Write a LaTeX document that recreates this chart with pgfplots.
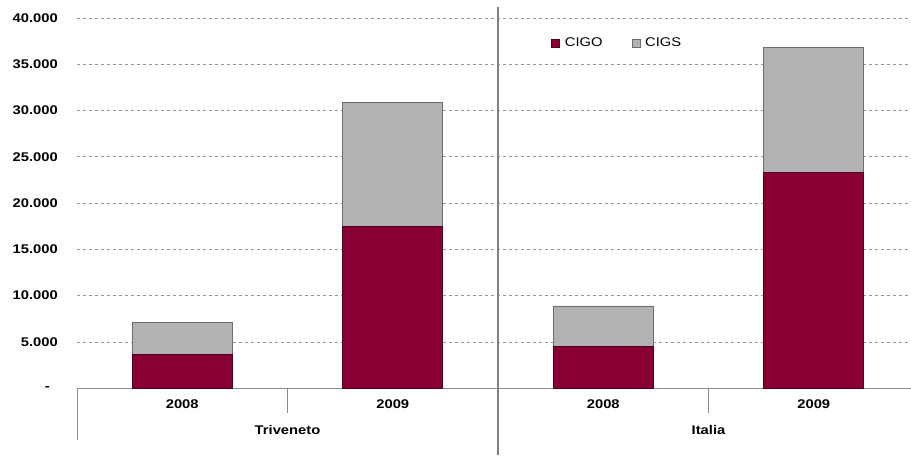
\documentclass[border=0pt]{standalone}
\usepackage{fontspec}
\setmainfont{Liberation Sans}[FakeStretch=1.17]
\usepackage{pgfplots}
\pgfplotsset{compat=1.18}
\definecolor{cigo}{RGB}{136,0,52}
\definecolor{cigoedge}{RGB}{80,0,30}
\definecolor{cigs}{RGB}{178,178,178}
\definecolor{cigsedge}{RGB}{110,110,110}
\definecolor{gridc}{RGB}{150,150,150}
\definecolor{axc}{RGB}{140,140,140}
\begin{document}
\fontsize{12.6}{15}\selectfont
\begin{tikzpicture}
\begin{axis}[
  name=ax,
  scale only axis,
  width=842pt, height=370pt,
  xmin=-0.5, xmax=3.5,
  ymin=0, ymax=40000,
  ybar stacked,
  bar width=0.475,
  clip=false,
  axis y line*=left,
  axis x line*=bottom,
  y axis line style={draw=none},
  x axis line style={draw=axc, line width=0.8pt, -},
  xtick={0,1,2,3},
  xticklabels={2008,2009,2008,2009},
  ytick={0,5000,10000,15000,20000,25000,30000,35000,40000},
  yticklabels={-\rule{8pt}{0pt},5.000,10.000,15.000,20.000,25.000,30.000,35.000,40.000},
  scaled y ticks=false,
  major tick length=0pt,
  ymajorgrids,
  grid style={dashed, draw=gridc, line width=0.5pt},
  /pgf/number format/assume math mode=true,
  ticklabel style={font=\fontsize{12.6}{15}\selectfont\bfseries},
  yticklabel style={anchor=east, inner sep=0pt, xshift=-19pt},
  xticklabel style={anchor=north, inner sep=0pt, yshift=-12pt},
  legend style={at={(0.563,0.932)}, anchor=west, draw=none, fill=none,
    inner sep=0pt, font=\fontsize{12.6}{15}\selectfont,
    legend columns=2,
    nodes={inner xsep=5pt},
    /tikz/every even column/.append style={column sep=24pt}},
  legend image code/.code={\fill[#1] (0pt,-4pt) rectangle (8pt,4pt);},
]
\addplot[fill=cigo, draw=cigoedge, line width=0.6pt] coordinates {(0,3630) (1,17490) (2,4530) (3,23300)};
\addlegendentry{CIGO}
\addplot[fill=cigs, draw=cigsedge, line width=0.6pt] coordinates {(0,3450) (1,13450) (2,4340) (3,13500)};
\addlegendentry{CIGS}
% category dividers
\draw[axc, line width=0.8pt] (axis cs:-0.5,0) -- ++(0pt,-52pt);
\draw[axc, line width=0.8pt] (axis cs:0.5,0) -- ++(0pt,-25pt);
\draw[axc, line width=0.8pt] (axis cs:2.5,0) -- ++(0pt,-25pt);
\draw[gray, line width=1.8pt] ([yshift=-67pt]axis cs:1.5,0) -- ([yshift=11pt]axis cs:1.5,40000);
\node[anchor=north, inner sep=0pt, font=\fontsize{12.6}{15}\selectfont\bfseries] at ([yshift=-37pt]axis cs:0.5,0) {Triveneto};
\node[anchor=north, inner sep=0pt, font=\fontsize{12.6}{15}\selectfont\bfseries] at ([yshift=-37pt]axis cs:2.5,0) {Italia};
\end{axis}
\pgfresetboundingbox
\path[use as bounding box] ([xshift=-77pt,yshift=-69pt]ax.south west) rectangle ([xshift=-8pt,yshift=18pt]ax.north east);
\end{tikzpicture}
\end{document}
